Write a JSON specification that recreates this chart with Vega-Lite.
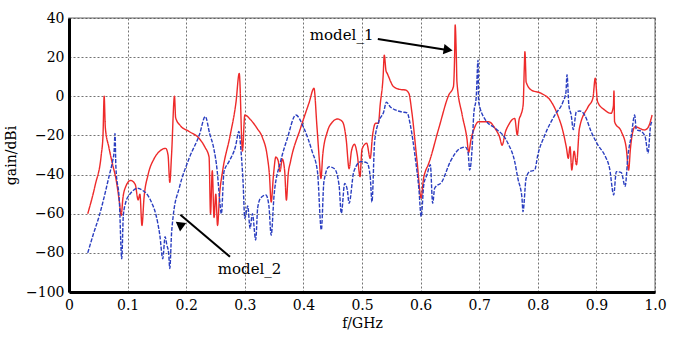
{
  "$schema": "https://vega.github.io/schema/vega-lite/v6.json",
  "width": 586,
  "height": 274,
  "autosize": {"type": "none"},
  "padding": {"left": 69, "top": 18, "right": 19, "bottom": 48},
  "background": "white",
  "config": {
    "view": {"stroke": "#9a9a9a", "strokeWidth": 1.5},
    "axis": {
      "labelFontSize": 14,
      "titleFontSize": 14,
      "titleFontWeight": "normal",
      "labelColor": "black",
      "titleColor": "black",
      "domainColor": "black",
      "domainWidth": 3,
      "ticks": false,
      "labelOverlap": false,
      "labelFlush": false,
      "gridColor": "#444444",
      "gridDash": [2, 2],
      "gridWidth": 1,
      "gridOpacity": 0.75
    }
  },
  "datasets": {
    "curves": [
      {"series": "model_1", "f": 0.032, "gain": -60},
      {"series": "model_1", "f": 0.045, "gain": -45},
      {"series": "model_1", "f": 0.055, "gain": -30},
      {"series": "model_1", "f": 0.058, "gain": -20},
      {"series": "model_1", "f": 0.060, "gain": 0},
      {"series": "model_1", "f": 0.062, "gain": -16},
      {"series": "model_1", "f": 0.068, "gain": -26},
      {"series": "model_1", "f": 0.0745, "gain": -35},
      {"series": "model_1", "f": 0.080, "gain": -42},
      {"series": "model_1", "f": 0.086, "gain": -54},
      {"series": "model_1", "f": 0.089, "gain": -61},
      {"series": "model_1", "f": 0.092, "gain": -52},
      {"series": "model_1", "f": 0.097, "gain": -46},
      {"series": "model_1", "f": 0.105, "gain": -43},
      {"series": "model_1", "f": 0.113, "gain": -45},
      {"series": "model_1", "f": 0.118, "gain": -53},
      {"series": "model_1", "f": 0.121, "gain": -50},
      {"series": "model_1", "f": 0.1245, "gain": -66},
      {"series": "model_1", "f": 0.128, "gain": -52},
      {"series": "model_1", "f": 0.135, "gain": -40},
      {"series": "model_1", "f": 0.145, "gain": -32},
      {"series": "model_1", "f": 0.155, "gain": -28},
      {"series": "model_1", "f": 0.165, "gain": -26.6},
      {"series": "model_1", "f": 0.169, "gain": -30},
      {"series": "model_1", "f": 0.172, "gain": -44},
      {"series": "model_1", "f": 0.175, "gain": -30},
      {"series": "model_1", "f": 0.180, "gain": 0},
      {"series": "model_1", "f": 0.182, "gain": -11},
      {"series": "model_1", "f": 0.190, "gain": -15},
      {"series": "model_1", "f": 0.205, "gain": -18},
      {"series": "model_1", "f": 0.222, "gain": -21.5},
      {"series": "model_1", "f": 0.232, "gain": -26},
      {"series": "model_1", "f": 0.239, "gain": -31},
      {"series": "model_1", "f": 0.2415, "gain": -60},
      {"series": "model_1", "f": 0.2445, "gain": -38},
      {"series": "model_1", "f": 0.2475, "gain": -62},
      {"series": "model_1", "f": 0.2505, "gain": -50},
      {"series": "model_1", "f": 0.2535, "gain": -66},
      {"series": "model_1", "f": 0.257, "gain": -50},
      {"series": "model_1", "f": 0.262, "gain": -38.5},
      {"series": "model_1", "f": 0.275, "gain": -20},
      {"series": "model_1", "f": 0.285, "gain": -3},
      {"series": "model_1", "f": 0.2905, "gain": 11.7},
      {"series": "model_1", "f": 0.296, "gain": -28},
      {"series": "model_1", "f": 0.300, "gain": -9.6},
      {"series": "model_1", "f": 0.310, "gain": -12},
      {"series": "model_1", "f": 0.321, "gain": -16.4},
      {"series": "model_1", "f": 0.330, "gain": -21},
      {"series": "model_1", "f": 0.338, "gain": -30},
      {"series": "model_1", "f": 0.342, "gain": -40},
      {"series": "model_1", "f": 0.345, "gain": -54},
      {"series": "model_1", "f": 0.349, "gain": -40},
      {"series": "model_1", "f": 0.353, "gain": -31},
      {"series": "model_1", "f": 0.357, "gain": -33},
      {"series": "model_1", "f": 0.360, "gain": -38.5},
      {"series": "model_1", "f": 0.364, "gain": -32},
      {"series": "model_1", "f": 0.368, "gain": -38},
      {"series": "model_1", "f": 0.371, "gain": -53},
      {"series": "model_1", "f": 0.374, "gain": -40},
      {"series": "model_1", "f": 0.378, "gain": -33.4},
      {"series": "model_1", "f": 0.395, "gain": -16.4},
      {"series": "model_1", "f": 0.410, "gain": -3},
      {"series": "model_1", "f": 0.418, "gain": 4.1},
      {"series": "model_1", "f": 0.423, "gain": -15},
      {"series": "model_1", "f": 0.427, "gain": -31.7},
      {"series": "model_1", "f": 0.430, "gain": -42},
      {"series": "model_1", "f": 0.433, "gain": -30},
      {"series": "model_1", "f": 0.441, "gain": -18},
      {"series": "model_1", "f": 0.450, "gain": -13},
      {"series": "model_1", "f": 0.458, "gain": -11.6},
      {"series": "model_1", "f": 0.465, "gain": -12.5},
      {"series": "model_1", "f": 0.469, "gain": -14.7},
      {"series": "model_1", "f": 0.473, "gain": -22},
      {"series": "model_1", "f": 0.478, "gain": -37},
      {"series": "model_1", "f": 0.482, "gain": -28},
      {"series": "model_1", "f": 0.487, "gain": -24.5},
      {"series": "model_1", "f": 0.492, "gain": -30},
      {"series": "model_1", "f": 0.4966, "gain": -41},
      {"series": "model_1", "f": 0.500, "gain": -27},
      {"series": "model_1", "f": 0.508, "gain": -24},
      {"series": "model_1", "f": 0.514, "gain": -31.7},
      {"series": "model_1", "f": 0.518, "gain": -20},
      {"series": "model_1", "f": 0.523, "gain": -13.8},
      {"series": "model_1", "f": 0.528, "gain": -13.8},
      {"series": "model_1", "f": 0.531, "gain": -4.4},
      {"series": "model_1", "f": 0.536, "gain": 10},
      {"series": "model_1", "f": 0.538, "gain": 21},
      {"series": "model_1", "f": 0.541, "gain": 13},
      {"series": "model_1", "f": 0.543, "gain": 11.7},
      {"series": "model_1", "f": 0.554, "gain": 4.9},
      {"series": "model_1", "f": 0.565, "gain": 3.5},
      {"series": "model_1", "f": 0.574, "gain": 3.2},
      {"series": "model_1", "f": 0.580, "gain": 1.5},
      {"series": "model_1", "f": 0.585, "gain": -7.9},
      {"series": "model_1", "f": 0.594, "gain": -33.4},
      {"series": "model_1", "f": 0.601, "gain": -52},
      {"series": "model_1", "f": 0.605, "gain": -42},
      {"series": "model_1", "f": 0.608, "gain": -38.5},
      {"series": "model_1", "f": 0.613, "gain": -35},
      {"series": "model_1", "f": 0.631, "gain": -16.4},
      {"series": "model_1", "f": 0.648, "gain": 0.6},
      {"series": "model_1", "f": 0.656, "gain": 4.9},
      {"series": "model_1", "f": 0.658, "gain": 20},
      {"series": "model_1", "f": 0.659, "gain": 36.4},
      {"series": "model_1", "f": 0.661, "gain": 20},
      {"series": "model_1", "f": 0.662, "gain": 7.4},
      {"series": "model_1", "f": 0.671, "gain": -9.6},
      {"series": "model_1", "f": 0.679, "gain": -21.5},
      {"series": "model_1", "f": 0.682, "gain": -28.7},
      {"series": "model_1", "f": 0.686, "gain": -22},
      {"series": "model_1", "f": 0.6906, "gain": -17.2},
      {"series": "model_1", "f": 0.699, "gain": -13},
      {"series": "model_1", "f": 0.716, "gain": -13},
      {"series": "model_1", "f": 0.727, "gain": -16.4},
      {"series": "model_1", "f": 0.735, "gain": -21},
      {"series": "model_1", "f": 0.739, "gain": -25},
      {"series": "model_1", "f": 0.745, "gain": -18},
      {"series": "model_1", "f": 0.750, "gain": -14.7},
      {"series": "model_1", "f": 0.7606, "gain": -11.3},
      {"series": "model_1", "f": 0.765, "gain": -19.8},
      {"series": "model_1", "f": 0.768, "gain": -12},
      {"series": "model_1", "f": 0.771, "gain": -9.6},
      {"series": "model_1", "f": 0.775, "gain": -4.4},
      {"series": "model_1", "f": 0.777, "gain": 15},
      {"series": "model_1", "f": 0.778, "gain": 22.8},
      {"series": "model_1", "f": 0.7795, "gain": 12},
      {"series": "model_1", "f": 0.780, "gain": 7.4},
      {"series": "model_1", "f": 0.789, "gain": 3.2},
      {"series": "model_1", "f": 0.806, "gain": 1.5},
      {"series": "model_1", "f": 0.823, "gain": -2.8},
      {"series": "model_1", "f": 0.834, "gain": -9.6},
      {"series": "model_1", "f": 0.843, "gain": -18},
      {"series": "model_1", "f": 0.849, "gain": -26.6},
      {"series": "model_1", "f": 0.852, "gain": -31.7},
      {"series": "model_1", "f": 0.855, "gain": -25.7},
      {"series": "model_1", "f": 0.858, "gain": -37.7},
      {"series": "model_1", "f": 0.862, "gain": -28},
      {"series": "model_1", "f": 0.866, "gain": -35},
      {"series": "model_1", "f": 0.871, "gain": -16.4},
      {"series": "model_1", "f": 0.886, "gain": -5.3},
      {"series": "model_1", "f": 0.894, "gain": -1},
      {"series": "model_1", "f": 0.898, "gain": 9.2},
      {"series": "model_1", "f": 0.902, "gain": -2.8},
      {"series": "model_1", "f": 0.914, "gain": -7},
      {"series": "model_1", "f": 0.925, "gain": -8.7},
      {"series": "model_1", "f": 0.929, "gain": -5},
      {"series": "model_1", "f": 0.930, "gain": 2.7},
      {"series": "model_1", "f": 0.931, "gain": -13},
      {"series": "model_1", "f": 0.9425, "gain": -18},
      {"series": "model_1", "f": 0.951, "gain": -26.6},
      {"series": "model_1", "f": 0.955, "gain": -37.7},
      {"series": "model_1", "f": 0.958, "gain": -27},
      {"series": "model_1", "f": 0.961, "gain": -19.8},
      {"series": "model_1", "f": 0.966, "gain": -15.6},
      {"series": "model_1", "f": 0.982, "gain": -17.2},
      {"series": "model_1", "f": 0.988, "gain": -16},
      {"series": "model_1", "f": 0.995, "gain": -9.6},
      {"series": "model_2", "f": 0.032, "gain": -80},
      {"series": "model_2", "f": 0.042, "gain": -70},
      {"series": "model_2", "f": 0.052, "gain": -60.7},
      {"series": "model_2", "f": 0.062, "gain": -49},
      {"series": "model_2", "f": 0.069, "gain": -40},
      {"series": "model_2", "f": 0.0745, "gain": -33},
      {"series": "model_2", "f": 0.077, "gain": -28},
      {"series": "model_2", "f": 0.0785, "gain": -19},
      {"series": "model_2", "f": 0.080, "gain": -36},
      {"series": "model_2", "f": 0.086, "gain": -54},
      {"series": "model_2", "f": 0.090, "gain": -83},
      {"series": "model_2", "f": 0.0927, "gain": -61},
      {"series": "model_2", "f": 0.097, "gain": -54},
      {"series": "model_2", "f": 0.103, "gain": -50.4},
      {"series": "model_2", "f": 0.110, "gain": -48},
      {"series": "model_2", "f": 0.117, "gain": -47},
      {"series": "model_2", "f": 0.125, "gain": -48},
      {"series": "model_2", "f": 0.134, "gain": -50.4},
      {"series": "model_2", "f": 0.142, "gain": -55},
      {"series": "model_2", "f": 0.1485, "gain": -60.7},
      {"series": "model_2", "f": 0.155, "gain": -71},
      {"series": "model_2", "f": 0.160, "gain": -83},
      {"series": "model_2", "f": 0.164, "gain": -71.7},
      {"series": "model_2", "f": 0.167, "gain": -76},
      {"series": "model_2", "f": 0.170, "gain": -80},
      {"series": "model_2", "f": 0.172, "gain": -88},
      {"series": "model_2", "f": 0.175, "gain": -70},
      {"series": "model_2", "f": 0.178, "gain": -60.7},
      {"series": "model_2", "f": 0.188, "gain": -47},
      {"series": "model_2", "f": 0.205, "gain": -31.7},
      {"series": "model_2", "f": 0.2224, "gain": -19.8},
      {"series": "model_2", "f": 0.2326, "gain": -10.4},
      {"series": "model_2", "f": 0.240, "gain": -19},
      {"series": "model_2", "f": 0.247, "gain": -26.6},
      {"series": "model_2", "f": 0.253, "gain": -38.5},
      {"series": "model_2", "f": 0.256, "gain": -49},
      {"series": "model_2", "f": 0.260, "gain": -60},
      {"series": "model_2", "f": 0.2645, "gain": -38.5},
      {"series": "model_2", "f": 0.273, "gain": -33.4},
      {"series": "model_2", "f": 0.284, "gain": -25.8},
      {"series": "model_2", "f": 0.290, "gain": -18},
      {"series": "model_2", "f": 0.293, "gain": -26},
      {"series": "model_2", "f": 0.297, "gain": -43.6},
      {"series": "model_2", "f": 0.300, "gain": -62.4},
      {"series": "model_2", "f": 0.305, "gain": -56},
      {"series": "model_2", "f": 0.309, "gain": -67.5},
      {"series": "model_2", "f": 0.313, "gain": -60},
      {"series": "model_2", "f": 0.3186, "gain": -73.4},
      {"series": "model_2", "f": 0.322, "gain": -57},
      {"series": "model_2", "f": 0.327, "gain": -52},
      {"series": "model_2", "f": 0.336, "gain": -50.4},
      {"series": "model_2", "f": 0.341, "gain": -55.6},
      {"series": "model_2", "f": 0.345, "gain": -71},
      {"series": "model_2", "f": 0.350, "gain": -50.4},
      {"series": "model_2", "f": 0.361, "gain": -33.4},
      {"series": "model_2", "f": 0.3726, "gain": -21.5},
      {"series": "model_2", "f": 0.387, "gain": -9.6},
      {"series": "model_2", "f": 0.401, "gain": -16.4},
      {"series": "model_2", "f": 0.415, "gain": -28.3},
      {"series": "model_2", "f": 0.424, "gain": -38.5},
      {"series": "model_2", "f": 0.4306, "gain": -68.3},
      {"series": "model_2", "f": 0.435, "gain": -43.6},
      {"series": "model_2", "f": 0.4437, "gain": -36},
      {"series": "model_2", "f": 0.453, "gain": -37},
      {"series": "model_2", "f": 0.4608, "gain": -45.3},
      {"series": "model_2", "f": 0.4647, "gain": -59.8},
      {"series": "model_2", "f": 0.4705, "gain": -44.5},
      {"series": "model_2", "f": 0.475, "gain": -48},
      {"series": "model_2", "f": 0.478, "gain": -54.7},
      {"series": "model_2", "f": 0.486, "gain": -38.5},
      {"series": "model_2", "f": 0.498, "gain": -33.4},
      {"series": "model_2", "f": 0.5085, "gain": -34},
      {"series": "model_2", "f": 0.514, "gain": -41},
      {"series": "model_2", "f": 0.517, "gain": -54},
      {"series": "model_2", "f": 0.5216, "gain": -23},
      {"series": "model_2", "f": 0.5285, "gain": -13},
      {"series": "model_2", "f": 0.537, "gain": -8},
      {"series": "model_2", "f": 0.5416, "gain": -3},
      {"series": "model_2", "f": 0.548, "gain": -5.3},
      {"series": "model_2", "f": 0.557, "gain": -7},
      {"series": "model_2", "f": 0.568, "gain": -8},
      {"series": "model_2", "f": 0.577, "gain": -8.5},
      {"series": "model_2", "f": 0.5825, "gain": -14.7},
      {"series": "model_2", "f": 0.591, "gain": -31.7},
      {"series": "model_2", "f": 0.597, "gain": -47},
      {"series": "model_2", "f": 0.601, "gain": -61.5},
      {"series": "model_2", "f": 0.6055, "gain": -45},
      {"series": "model_2", "f": 0.611, "gain": -40},
      {"series": "model_2", "f": 0.6166, "gain": -35},
      {"series": "model_2", "f": 0.6206, "gain": -54.7},
      {"series": "model_2", "f": 0.624, "gain": -47},
      {"series": "model_2", "f": 0.6365, "gain": -43.6},
      {"series": "model_2", "f": 0.6507, "gain": -33.4},
      {"series": "model_2", "f": 0.6678, "gain": -26.6},
      {"series": "model_2", "f": 0.6763, "gain": -26},
      {"series": "model_2", "f": 0.681, "gain": -28.7},
      {"series": "model_2", "f": 0.6837, "gain": -37.7},
      {"series": "model_2", "f": 0.688, "gain": -26},
      {"series": "model_2", "f": 0.6906, "gain": -9.6},
      {"series": "model_2", "f": 0.695, "gain": 0},
      {"series": "model_2", "f": 0.698, "gain": 18.5},
      {"series": "model_2", "f": 0.699, "gain": -2.8},
      {"series": "model_2", "f": 0.7105, "gain": -12},
      {"series": "model_2", "f": 0.7275, "gain": -16.4},
      {"series": "model_2", "f": 0.7445, "gain": -21.5},
      {"series": "model_2", "f": 0.749, "gain": -24},
      {"series": "model_2", "f": 0.7606, "gain": -33.4},
      {"series": "model_2", "f": 0.766, "gain": -42},
      {"series": "model_2", "f": 0.773, "gain": -52},
      {"series": "model_2", "f": 0.7747, "gain": -59},
      {"series": "model_2", "f": 0.780, "gain": -42},
      {"series": "model_2", "f": 0.786, "gain": -38.5},
      {"series": "model_2", "f": 0.7947, "gain": -37.7},
      {"series": "model_2", "f": 0.800, "gain": -30},
      {"series": "model_2", "f": 0.812, "gain": -19.8},
      {"series": "model_2", "f": 0.829, "gain": -9.6},
      {"series": "model_2", "f": 0.843, "gain": -2.8},
      {"series": "model_2", "f": 0.848, "gain": 2},
      {"series": "model_2", "f": 0.8498, "gain": 11},
      {"series": "model_2", "f": 0.853, "gain": -4.5},
      {"series": "model_2", "f": 0.857, "gain": -9.6},
      {"series": "model_2", "f": 0.8606, "gain": -17},
      {"series": "model_2", "f": 0.8657, "gain": -8},
      {"series": "model_2", "f": 0.8714, "gain": -7.5},
      {"series": "model_2", "f": 0.880, "gain": -9.6},
      {"series": "model_2", "f": 0.891, "gain": -18},
      {"series": "model_2", "f": 0.9027, "gain": -25},
      {"series": "model_2", "f": 0.914, "gain": -30},
      {"series": "model_2", "f": 0.9226, "gain": -37},
      {"series": "model_2", "f": 0.9295, "gain": -50.4},
      {"series": "model_2", "f": 0.934, "gain": -38.5},
      {"series": "model_2", "f": 0.9425, "gain": -39},
      {"series": "model_2", "f": 0.949, "gain": -46},
      {"series": "model_2", "f": 0.954, "gain": -30},
      {"series": "model_2", "f": 0.9596, "gain": -20},
      {"series": "model_2", "f": 0.9653, "gain": -9.6},
      {"series": "model_2", "f": 0.968, "gain": -17},
      {"series": "model_2", "f": 0.9767, "gain": -18},
      {"series": "model_2", "f": 0.9835, "gain": -21},
      {"series": "model_2", "f": 0.988, "gain": -29},
      {"series": "model_2", "f": 0.9926, "gain": -14.7},
      {"series": "model_2", "f": 0.995, "gain": -13}
    ],
    "arrows": [
      {"label": "model_1", "f": 0.527, "gain": 29.3, "f2": 0.648, "gain2": 23.5},
      {"label": "model_2", "f": 0.2747, "gain": -82, "f2": 0.190, "gain2": -60.5}
    ],
    "heads1": [{"label": "model_1", "f": 0.647, "gain": 23.7}],
    "heads2": [{"label": "model_2", "f": 0.1885, "gain": -65.5}],
    "labels": [
      {"label": "model_1", "f": 0.411, "gain": 31.5},
      {"label": "model_2", "f": 0.254, "gain": -88.5}
    ]
  },
  "encoding": {
    "x": {
      "field": "f", "type": "quantitative",
      "scale": {"domain": [0, 1]},
      "axis": {
        "tickCount": 10,
        "labelExpr": "datum.value == 0 ? '0' : format(datum.value, '.1f')",
        "title": "f/GHz",
        "labelFont": "DejaVu Serif",
        "titleFont": "DejaVu Serif",
        "labelOverlap": false,
        "labelPadding": 6,
        "titlePadding": 4,
        "grid": true
      }
    },
    "y": {
      "field": "gain", "type": "quantitative",
      "scale": {"domain": [-100, 40]},
      "axis": {
        "tickCount": 7,
        "title": "gain/dBi",
        "labelFont": "DejaVu Serif",
        "titleFont": "DejaVu Serif",
        "labelOverlap": false,
        "labelPadding": 5,
        "titlePadding": 7,
        "grid": true
      }
    }
  },
  "layer": [
    {
      "data": {"name": "curves"},
      "mark": {"type": "line", "strokeWidth": 1.4, "clip": true, "interpolate": "monotone"},
      "encoding": {
        "color": {
          "field": "series", "type": "nominal",
          "scale": {"domain": ["model_1", "model_2"], "range": ["#ee2a2a", "#2a3ec0"]},
          "legend": null
        },
        "strokeDash": {
          "field": "series", "type": "nominal",
          "scale": {"domain": ["model_1", "model_2"], "range": [[1, 0], [4, 1.5]]},
          "legend": null
        }
      }
    },
    {
      "data": {"name": "arrows"},
      "mark": {"type": "rule", "color": "black", "strokeWidth": 2},
      "encoding": {
        "x2": {"field": "f2"},
        "y2": {"field": "gain2"}
      }
    },
    {
      "data": {"name": "heads1"},
      "mark": {"type": "point", "shape": "triangle-up", "filled": true, "color": "black", "size": 110, "angle": 99, "opacity": 1}
    },
    {
      "data": {"name": "heads2"},
      "mark": {"type": "point", "shape": "triangle-up", "filled": true, "color": "black", "size": 110, "angle": 306, "opacity": 1}
    },
    {
      "data": {"name": "labels"},
      "mark": {"type": "text", "align": "left", "baseline": "middle", "font": "DejaVu Serif", "fontSize": 15, "color": "black"},
      "encoding": {
        "text": {"field": "label"}
      }
    }
  ]
}
